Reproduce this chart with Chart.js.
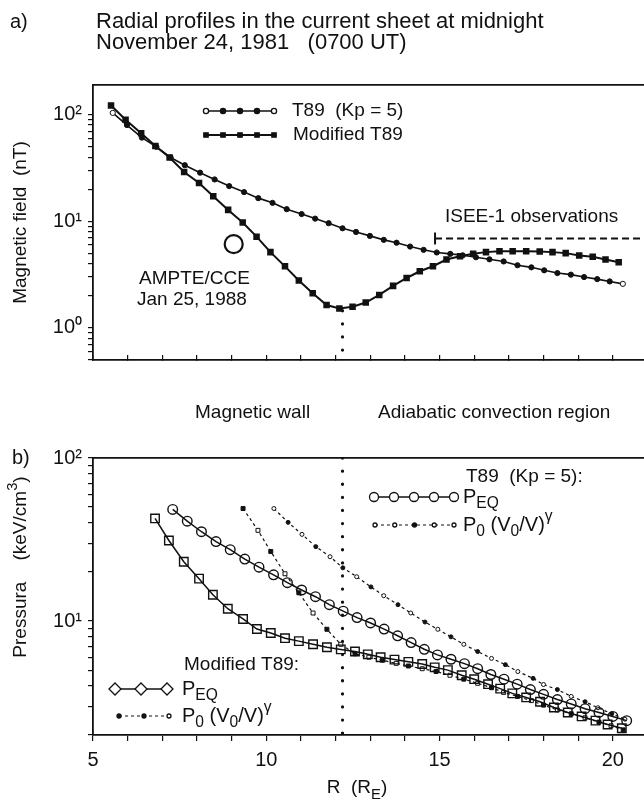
<!DOCTYPE html>
<html>
<head>
<meta charset="utf-8">
<script src="https://cdn.jsdelivr.net/npm/chart.js@4.4.1/dist/chart.umd.min.js"></script>
<style>
  body { margin: 0; width: 644px; height: 800px; position: relative; background: #fff; overflow: hidden;
         font-family: "Liberation Sans", Arial, sans-serif; color: #111; }
  .wrap { position: absolute; left: 0; width: 644px; height: 400px; }
  .lbl { position: absolute; font-size: 19px; line-height: 1; white-space: pre; }
  .big { font-size: 22px; }
</style>
</head>
<body>
<div class="wrap" style="top:0"><canvas id="chartA" width="644" height="400"></canvas></div>
<div class="wrap" style="top:400px"><canvas id="chartB" width="644" height="400"></canvas></div>

<div class="lbl" style="left:10px;top:11px;font-size:20px">a)</div>
<div class="lbl big" style="left:96px;top:10px">Radial profiles in the current sheet at midnight</div>
<div class="lbl big" style="left:96px;top:31px">November 24, 1981   (0700 UT)</div>
<div class="lbl" style="left:195px;top:402px">Magnetic wall</div>
<div class="lbl" style="left:378px;top:402px">Adiabatic convection region</div>
<div class="lbl" style="left:12px;top:447px;font-size:20px">b)</div>

<script>
const FONT = '"Liberation Sans", Arial, sans-serif';
Chart.defaults.font.family = FONT;
Chart.defaults.color = '#111';

// ---- panel a: magnetic field (nT) vs R (RE)
const t89R = [5.57, 5.98, 6.41, 6.83, 7.24, 7.65, 8.09, 8.51, 8.93, 9.36, 9.77, 10.18, 10.59, 11.02, 11.41, 11.80, 12.20, 12.59, 12.99, 13.39, 13.76, 14.15, 14.54, 14.92, 15.31, 15.67, 16.05, 16.44, 16.85, 17.25, 17.65, 18.02, 18.40, 18.79, 19.17, 19.55, 19.91, 20.29];
const t89B = [104, 80, 61, 50, 39.7, 33.6, 28.6, 24.7, 21.4, 18.8, 16.5, 14.9, 13.0, 11.7, 10.6, 9.6, 8.6, 7.95, 7.3, 6.7, 6.3, 5.8, 5.4, 5.1, 4.95, 4.8, 4.6, 4.4, 4.2, 3.87, 3.7, 3.47, 3.27, 3.16, 3.0, 2.87, 2.73, 2.59];

const modR = [5.52, 5.94, 6.39, 6.80, 7.21, 7.63, 8.06, 8.47, 8.90, 9.32, 9.72, 10.12, 10.54, 10.94, 11.34, 11.74, 12.11, 12.49, 12.87, 13.26, 13.66, 14.05, 14.43, 14.81, 15.20, 15.59, 15.97, 16.34, 16.73, 17.11, 17.50, 17.89, 18.26, 18.64, 19.03, 19.42, 19.79, 20.17];
const modB = [122, 89.7, 67, 50.8, 39.7, 29, 22.9, 17.2, 12.8, 9.75, 7.18, 5.14, 3.78, 2.79, 2.11, 1.64, 1.52, 1.58, 1.73, 2.04, 2.48, 2.94, 3.40, 3.79, 4.38, 4.71, 4.96, 5.14, 5.25, 5.25, 5.25, 5.21, 5.14, 5.03, 4.78, 4.64, 4.38, 4.13];

const ampteR = [9.06];
const ampteB = [6.1];
const iseeR = [14.87, 20.9];
const iseeB = [6.9, 6.9];

const wallR = 12.2;
const wallB = [1.45, 0.5];
const wallP = [100, 2];

// ---- panel b: pressure (keV/cm3) vs R (RE)
const peqR = [7.30, 7.72, 8.13, 8.55, 8.96, 9.38, 9.79, 10.21, 10.61, 11.02, 11.42, 11.82, 12.22, 12.62, 13.01, 13.40, 13.79, 14.18, 14.56, 14.94, 15.33, 15.72, 16.1, 16.48, 16.86, 17.24, 17.62, 18.0, 18.4, 18.8, 19.2, 19.6, 20.0, 20.4];
const peqT89 = [48.4, 41.0, 35.3, 30.7, 27.4, 24.0, 21.4, 19.2, 17.2, 15.5, 14.1, 12.6, 11.5, 10.5, 9.73, 8.93, 8.12, 7.38, 6.71, 6.2, 5.83, 5.48, 5.1, 4.7, 4.4, 4.1, 3.8, 3.55, 3.3, 3.1, 2.9, 2.75, 2.6, 2.45];

const peqModR = [6.79, 7.19, 7.62, 8.06, 8.46, 8.89, 9.33, 9.73, 10.13, 10.54, 10.94, 11.35, 11.75, 12.15, 12.56, 12.93, 13.3, 13.7, 14.1, 14.5, 14.86, 15.24, 15.64, 16.0, 16.4, 16.75, 17.1, 17.5, 17.9, 18.3, 18.7, 19.1, 19.5, 19.85, 20.26];
const peqMod = [42.6, 31.2, 23.1, 18.2, 14.5, 11.9, 10.3, 8.93, 8.44, 7.85, 7.53, 7.21, 6.91, 6.7, 6.5, 6.25, 6.0, 5.8, 5.62, 5.45, 5.2, 5.0, 4.65, 4.4, 4.1, 3.85, 3.6, 3.4, 3.2, 2.95, 2.75, 2.6, 2.45, 2.32, 2.2];

const p0R = [10.22, 10.63, 11.03, 11.43, 11.84, 12.21, 12.61, 13.02, 13.39, 13.8, 14.17, 14.58, 14.95, 15.33, 15.7, 16.1, 16.5, 16.9, 17.26, 17.7, 18.0, 18.4, 18.8, 19.2, 19.57, 19.97, 20.35];
const p0T89 = [49, 40.3, 34, 28.6, 24.8, 21.2, 18.7, 16.2, 14.3, 12.6, 11.2, 9.86, 8.9, 8.0, 7.2, 6.5, 5.9, 5.4, 4.9, 4.45, 4.08, 3.8, 3.45, 3.2, 2.94, 2.7, 2.5];

const p0ModR = [9.33, 9.76, 10.13, 10.54, 10.94, 11.35, 11.75, 12.15, 12.56, 12.96, 13.35, 13.75, 14.1, 14.5, 14.9, 15.3, 15.7, 16.1, 16.5, 16.85, 17.25, 17.65, 18.0, 18.4, 18.8, 19.2, 19.6, 19.95, 20.3];
const p0Mod = [49, 36, 26.7, 19.5, 14.9, 11.2, 8.9, 7.2, 6.3, 6.0, 5.75, 5.5, 5.3, 5.1, 4.9, 4.65, 4.4, 4.15, 3.9, 3.65, 3.45, 3.25, 3.05, 2.85, 2.7, 2.55, 2.4, 2.28, 2.15];

// ---- ticks
const xTickValues = [5, 10, 15, 20];
const xTickLabels = ['5', '10', '15', '20'];
const bTickValues = [1, 10, 100];
const bTickLabels = ['10⁰', '10¹', '10²'];
const pTickValues = [10, 100];
const pTickLabels = ['10¹', '10²'];

function pts(xs, ys) {
    return xs.map((x, i) => ({ x: x, y: ys[i] }));
}

function logTicks(min, max) {
    const out = [];
    for (let e = Math.floor(Math.log10(min)); e <= Math.ceil(Math.log10(max)); e++) {
        for (let m = 1; m <= 9; m++) {
            const v = +(m * Math.pow(10, e)).toPrecision(6);
            if (v >= min - 1e-9 && v <= max + 1e-9) out.push({ value: v });
        }
    }
    return out;
}

function yLog(min, max, vals, labels, title) {
    return {
        type: 'logarithmic', position: 'left', min: min, max: max,
        afterBuildTicks: s => { s.ticks = logTicks(min, max); },
        ticks: {
            autoSkip: false, padding: 6, font: { size: 20 }, color: '#111',
            callback: v => { const i = vals.indexOf(v); return i >= 0 ? labels[i] : ''; }
        },
        grid: { drawOnChartArea: false, tickLength: 5, color: '#111', lineWidth: 1.2 },
        border: { color: '#111', width: 1.8 },
        title: { display: !!title, text: title, font: { size: 19 }, padding: { top: 9, bottom: 0 } },
        afterFit: s => { s.width = 93; }
    };
}

function xLin(tickLen, showLabels, height) {
    return {
        type: 'linear', position: 'bottom', min: 5, max: 20.9,
        ticks: {
            display: showLabels, stepSize: 1, includeBounds: false, autoSkip: false,
            padding: 7, font: { size: 20 }, color: '#111',
            callback: v => { const i = xTickValues.indexOf(v); return i >= 0 ? xTickLabels[i] : ''; }
        },
        grid: { drawOnChartArea: false, tickLength: tickLen, color: '#111', lineWidth: 1.2 },
        border: { color: '#111', width: 1.8 },
        afterFit: s => { s.height = height; }
    };
}

function xFrame(height) {
    return {
        type: 'linear', position: 'top', min: 5, max: 20.9,
        ticks: { display: false },
        grid: { drawOnChartArea: false, drawTicks: false },
        border: { color: '#111', width: 1.8 },
        afterFit: s => { s.height = height; }
    };
}

// ---- drawing helpers for the hand-placed legends and notes
function mark(c, style, x, y, r, filled) {
    c.beginPath();
    if (style === 'circle') c.arc(x, y, r, 0, Math.PI * 2);
    else if (style === 'rect') c.rect(x - r, y - r, 2 * r, 2 * r);
    else if (style === 'diamond') { c.moveTo(x - r, y); c.lineTo(x, y - r); c.lineTo(x + r, y); c.lineTo(x, y + r); c.closePath(); }
    c.fillStyle = filled ? '#111' : '#fff';
    c.fill();
    c.stroke();
}

function legendLine(c, x1, x2, y, style, r, fills, dash, lw) {
    c.save();
    c.strokeStyle = '#111';
    c.lineWidth = lw;
    c.setLineDash(dash);
    c.beginPath(); c.moveTo(x1, y); c.lineTo(x2, y); c.stroke();
    c.setLineDash([]);
    c.lineWidth = 1.3;
    const n = fills.length;
    fills.forEach((f, i) => mark(c, style, x1 + (x2 - x1) * i / (n - 1), y, r, f));
    c.restore();
}

function rich(c, x, y, parts, size, align) {
    c.save();
    c.fillStyle = '#111';
    c.textBaseline = 'middle';
    c.textAlign = 'left';
    let w = 0;
    parts.forEach(([t, m]) => { c.font = (m ? size * 0.78 : size) + 'px ' + FONT; w += c.measureText(t).width; });
    let cx = align === 'center' ? x - w / 2 : x;
    parts.forEach(([t, m]) => {
        c.font = (m ? size * 0.78 : size) + 'px ' + FONT;
        const dy = m === 'sub' ? size * 0.35 : (m === 'sup' ? -size * 0.4 : 0);
        c.fillText(t, cx, y + dy);
        cx += c.measureText(t).width;
    });
    c.restore();
}

const P_EQ = [['P', ''], ['EQ', 'sub']];
const P_0 = [['P', ''], ['0', 'sub'], [' (V', ''], ['0', 'sub'], ['/V)', ''], ['γ', 'sup']];

const notesA = {
    id: 'notesA',
    afterDraw(chart) {
        const c = chart.ctx;
        legendLine(c, 206, 274, 111, 'circle', 2.6, [0, 1, 1, 1, 0], [], 1.5);
        legendLine(c, 206, 274, 135, 'rect', 2.2, [1, 1, 1, 1, 1], [], 2);
        rich(c, 292, 111, [['T89  (Kp = 5)', '']], 19);
        rich(c, 293, 135, [['Modified T89', '']], 19);
        rich(c, 445, 217, [['ISEE-1 observations', '']], 19);
        rich(c, 139, 279, [['AMPTE/CCE', '']], 19);
        rich(c, 137, 300, [['Jan 25, 1988', '']], 19);
    }
};

const notesB = {
    id: 'notesB',
    afterDraw(chart) {
        const c = chart.ctx;
        rich(c, 466, 77, [['T89  (Kp = 5):', '']], 19);
        legendLine(c, 374, 454, 97, 'circle', 4.5, [0, 0, 0, 0, 0], [], 1.5);
        rich(c, 463, 97, P_EQ, 20);
        legendLine(c, 375, 454, 125, 'circle', 2, [0, 0, 1, 0, 0], [3, 3], 1.2);
        rich(c, 463, 125, P_0, 20);
        rich(c, 184, 265, [['Modified T89:', '']], 19);
        legendLine(c, 115, 167, 289, 'diamond', 6, [0, 0, 0], [], 1.5);
        rich(c, 182, 289, P_EQ, 20);
        legendLine(c, 119, 169, 316, 'circle', 2, [1, 1, 0], [3, 3], 1.2);
        rich(c, 182, 316, P_0, 20);
        rich(c, 357, 388, [['R  (R', ''], ['E', 'sub'], [')', '']], 19, 'center');
        c.save();
        c.translate(21, 167);
        c.rotate(-Math.PI / 2);
        rich(c, 0, 0, [['Pressura    (keV/cm', ''], ['3', 'sup'], [')', '']], 19, 'center');
        c.restore();
    }
};

const baseOptions = {
    responsive: false,
    animation: false,
    events: [],
    layout: { padding: 0, autoPadding: false },
    plugins: { legend: { display: false }, tooltip: { enabled: false } }
};

new Chart(document.getElementById('chartA'), {
    type: 'line',
    data: {
        datasets: [
            {
                data: pts(t89R, t89B), borderColor: '#111', borderWidth: 1.6,
                pointStyle: 'circle', pointRadius: 2.6, pointBorderWidth: 1, pointBorderColor: '#111',
                pointBackgroundColor: ctx => (ctx.dataIndex === 0 || ctx.dataIndex === t89R.length - 1) ? '#fff' : '#111'
            },
            {
                data: pts(modR, modB), borderColor: '#111', borderWidth: 2,
                pointStyle: 'rect', pointRadius: 3.2, pointBorderColor: '#111', pointBackgroundColor: '#111'
            },
            {
                data: pts(ampteR, ampteB), showLine: false,
                pointStyle: 'circle', pointRadius: 9, pointBorderWidth: 2.2, pointBorderColor: '#111',
                pointBackgroundColor: 'rgba(0,0,0,0)'
            },
            {
                data: pts(iseeR, iseeB), borderColor: '#111', borderWidth: 2, borderDash: [7, 4],
                pointStyle: 'line', pointRotation: 90, pointRadius: [6, 0], pointBorderWidth: 2, pointBorderColor: '#111'
            },
            {
                data: pts([wallR, wallR], wallB), borderColor: '#111', borderWidth: 3.2,
                borderDash: [0.1, 13], borderCapStyle: 'round', pointRadius: 0
            }
        ]
    },
    options: Object.assign({}, baseOptions, {
        scales: {
            x: xLin(-5, false, 40),
            xt: xFrame(85),
            y: yLog(0.5, 190, bTickValues, bTickLabels, 'Magnetic field  (nT)')
        }
    }),
    plugins: [notesA]
});

new Chart(document.getElementById('chartB'), {
    type: 'line',
    data: {
        datasets: [
            {
                data: pts(peqR, peqT89), borderColor: '#111', borderWidth: 1.5,
                pointStyle: 'circle', pointRadius: 4.8, pointBorderWidth: 1.4, pointBorderColor: '#111',
                pointBackgroundColor: 'rgba(255,255,255,0)'
            },
            {
                data: pts(peqModR, peqMod), borderColor: '#111', borderWidth: 1.5,
                pointStyle: 'rect', pointRadius: 6, pointBorderWidth: 1.4, pointBorderColor: '#111',
                pointBackgroundColor: 'rgba(255,255,255,0)'
            },
            {
                data: pts(p0R, p0T89), borderColor: '#111', borderWidth: 1.2, borderDash: [3, 3],
                pointStyle: 'circle', pointRadius: 2, pointBorderWidth: 1, pointBorderColor: '#111',
                pointBackgroundColor: ctx => ctx.dataIndex % 2 ? '#111' : '#fff'
            },
            {
                data: pts(p0ModR, p0Mod), borderColor: '#111', borderWidth: 1.2, borderDash: [3, 3],
                pointStyle: 'rect', pointRadius: 2.8, pointBorderWidth: 1, pointBorderColor: '#111',
                pointBackgroundColor: ctx => ctx.dataIndex % 2 ? '#fff' : '#111'
            },
            {
                data: pts([wallR, wallR], wallP), borderColor: '#111', borderWidth: 3.2,
                borderDash: [0.1, 13], borderCapStyle: 'round', pointRadius: 0
            }
        ]
    },
    options: Object.assign({}, baseOptions, {
        scales: {
            x: xLin(6, true, 65),
            xt: xFrame(58),
            y: yLog(2, 100, pTickValues, pTickLabels, '')
        }
    }),
    plugins: [notesB]
});
</script>
</body>
</html>
